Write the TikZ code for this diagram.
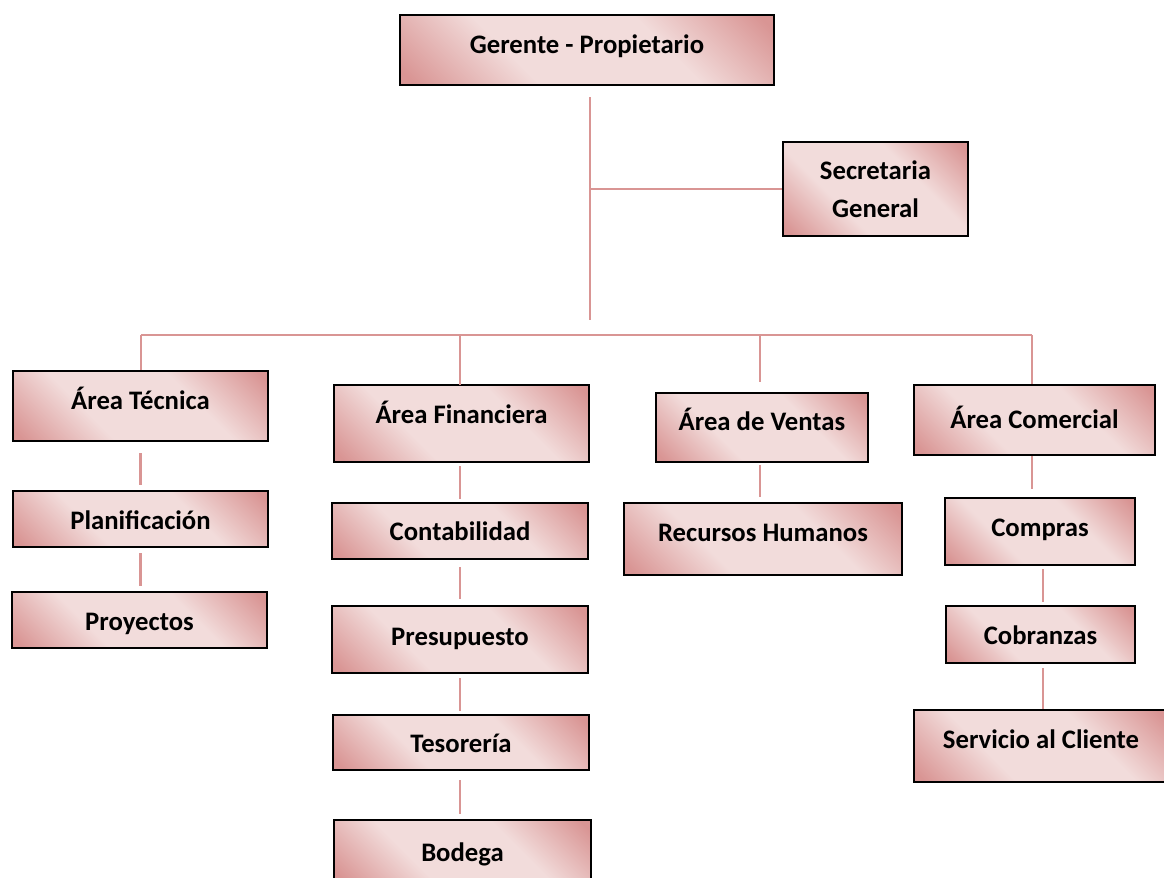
\documentclass[tikz,border=0pt]{standalone}
\usepackage{fontspec}
\setmainfont{Carlito}
\definecolor{rosa}{HTML}{D99594}
\definecolor{rosaclaro}{HTML}{F2DCDB}
\pgfdeclareverticalshading{cajarosa}{100bp}{color(0bp)=(rosa); color(17bp)=(rosa);
    color(37bp)=(rosaclaro); color(63bp)=(rosaclaro); color(83bp)=(rosa); color(100bp)=(rosa)}
\tikzset{
    caja/.style 2 args={draw=black, line width=1.5pt,
        shading=cajarosa, shading angle=-45,
        minimum width=#1*0.02cm, minimum height=#2*0.02cm,
        inner sep=0pt, align=center,
        font=\fontsize{15.2}{21.5}\selectfont\bfseries},
    subir/.style={text height=11.8pt, text depth=#1},
    linea/.style={draw=rosa, line width=1.25pt}
}
\begin{document}
\begin{tikzpicture}[x=0.02cm, y=-0.02cm]
    \useasboundingbox (0,0) rectangle (1164,877);
    % Gerencia
    \node[caja={374}{70}, subir=0.27cm]  (gerente)    at (587,50)   {Gerente - Propietario};
    \node[caja={185}{94}]                (secretaria) at (875.5,189) {Secretaria\\General};
    % Areas
    \node[caja={255}{70}, subir=0.27cm]  (tecnica)    at (140.5,406) {Área Técnica};
    \node[caja={255}{77}, subir=0.41cm]  (financiera) at (461.5,423.5) {Área Financiera};
    \node[caja={212}{69}, subir=0.29cm]  (ventas)     at (762,427.5) {Área de Ventas};
    \node[caja={241}{70}, subir=0.07cm]  (comercial)  at (1034.5,420) {Área Comercial};
    % Area tecnica
    \node[caja={255}{56}, subir=0cm]     (planificacion) at (140.5,519) {Planificación};
    \node[caja={255}{56}, subir=0cm]     (proyectos)  at (139.5,620)  {Proyectos};
    % Area financiera
    \node[caja={256}{56}, subir=0.03cm]  (contabilidad) at (460,531) {Contabilidad};
    \node[caja={256}{67}, subir=0.17cm]  (presupuesto) at (460,639.5) {Presupuesto};
    \node[caja={256}{55}, subir=0cm]     (tesoreria)  at (461,742.5) {Tesorería};
    \node[caja={257}{62}, subir=0cm]     (bodega)     at (462.5,851) {Bodega};
    % Area de ventas
    \node[caja={278}{72}, subir=0.31cm]  (recursos)   at (763,539)  {Recursos Humanos};
    % Area comercial
    \node[caja={190}{67}, subir=0.21cm]  (compras)    at (1040,531.5) {Compras};
    \node[caja={189}{57}, subir=0cm]     (cobranzas)  at (1040.5,634.5) {Cobranzas};
    \node[caja={254}{72}, subir=0.31cm]  (servicio)   at (1041,746) {Servicio al Cliente};
    % Tronco principal
    \coordinate (troncoarriba) at (590,97);
    \coordinate (troncoabajo)  at (590,320);
    \draw[linea] (troncoarriba) -- (troncoabajo);
    \draw[linea] (troncoarriba |- secretaria.west) -- (secretaria.west);
    % Linea horizontal a las areas
    \coordinate (busizq) at (141,335);
    \coordinate (busder) at (1032,335);
    \draw[linea] (busizq) -- (busder);
    \draw[linea] (busizq) -- (busizq |- tecnica.north);
    \draw[linea] (460,335) -- (460,385);
    \draw[linea] (760,335) -- ([yshift=0.2cm]760,0 |- ventas.north);
    \draw[linea] (busder) -- (busder |- comercial.north);
    % Area tecnica
    \draw[linea] ([yshift=-0.22cm]tecnica.south)       -- ([yshift=0.1cm]tecnica.south |- planificacion.north);
    \draw[linea] ([yshift=-0.1cm]planificacion.south)  -- ([yshift=0.1cm]planificacion.south |- proyectos.north);
    % Area financiera
    \draw[linea] ([yshift=-0.06cm]contabilidad.north |- financiera.south) -- ([yshift=0.06cm]contabilidad.north);
    \draw[linea] ([yshift=-0.14cm]contabilidad.south)  -- ([yshift=0.12cm]contabilidad.south |- presupuesto.north);
    \draw[linea] ([yshift=-0.08cm]presupuesto.south)   -- ([yshift=0.06cm]presupuesto.south |- tesoreria.north);
    \draw[linea] ([yshift=-0.18cm]presupuesto.south |- tesoreria.south) -- ([yshift=0.1cm]presupuesto.south |- bodega.north);
    % Area de ventas
    \draw[linea] ([yshift=-0.04cm]760,0 |- ventas.south) -- ([yshift=0.1cm]760,0 |- recursos.north);
    % Area comercial
    \draw[linea] (busder |- comercial.south)           -- ([yshift=0.16cm]busder |- compras.north);
    \draw[linea] ([yshift=-0.06cm]1043,0 |- compras.south)   -- ([yshift=0.06cm]1043,0 |- cobranzas.north);
    \draw[linea] ([yshift=-0.08cm]1043,0 |- cobranzas.south) -- (1043,0 |- servicio.north);
\end{tikzpicture}
\end{document}
